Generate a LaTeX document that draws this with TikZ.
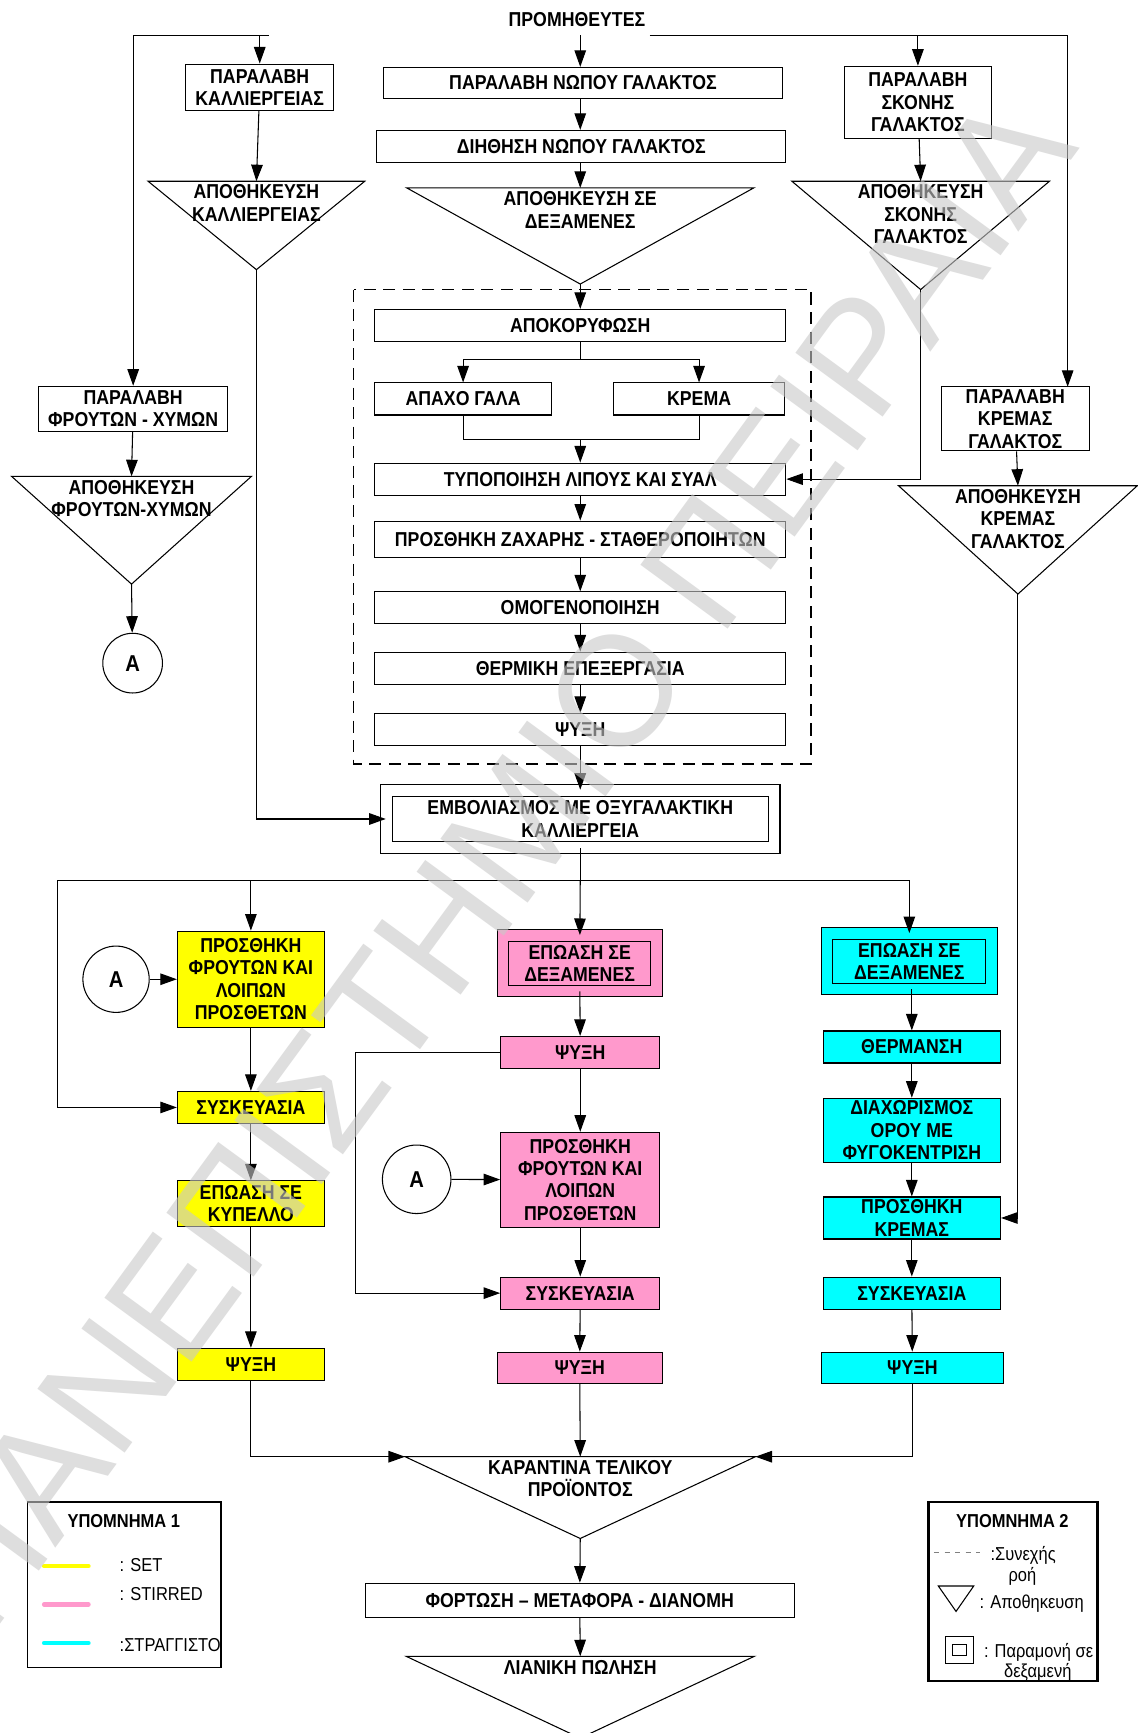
\documentclass[tikz,border=0pt]{standalone}
\usepackage{fontspec}
\setmainfont{Liberation Sans}[FakeStretch=0.88]
\newfontfamily\wzfont{Liberation Sans}
\usetikzlibrary{arrows.meta, calc}
\definecolor{gelb}{rgb}{1,1,0}
\definecolor{rosa}{RGB}{255,153,204}
\definecolor{tuerkis}{RGB}{0,255,255}
\definecolor{wzgrau}{RGB}{200,200,200}
\newcommand{\kastenfont}{\bfseries\fontsize{11.4}{12.7}\selectfont}
\newcommand{\legfont}{\fontsize{10.6}{12}\selectfont}
% Lager: Name, Mitte x, Oberkante y, halbe Breite, Hoehe, Text
\newcommand{\lager}[6]{%
  \draw[linie] (#2-#4,#3) coordinate (#1-l) -- (#2+#4,#3) coordinate (#1-r)
    -- (#2,#3+#5) coordinate (#1-s) -- cycle;
  \coordinate (#1-n) at (#2,#3);
  \node[lagertext] (#1) at (#2,#3+3) {#6};
}
\tikzset{
  linie/.style={line width=0.6pt},
  box/.style={draw, line width=0.6pt, inner sep=0pt, align=center, font=\kastenfont},
  breite/.style={minimum width=#1*0.022cm},
  hoehe/.style={minimum height=#1*0.022cm},
  dbox/.style={box, fill=#1, double=#1, double distance=0.21cm},
  gbox/.style={box, fill=gelb},
  rbox/.style={box, fill=rosa},
  tbox/.style={box, fill=tuerkis},
  lagertext/.style={anchor=north, align=center, inner sep=0pt, font=\kastenfont},
  kreis/.style={draw, circle, line width=0.6pt, inner sep=0pt, font=\bfseries\fontsize{13}{13}\selectfont},
  pfeil/.style={-{Triangle[length=0.33cm, width=0.23cm]}, line width=0.6pt},
  gestrichelt/.style={dashed, dash pattern=on 0.24cm off 0.15cm, line width=0.9pt},
  rahmen/.style={draw, line width=0.7pt, inner sep=0pt},
  legtitel/.style={inner sep=0pt, font=\bfseries\legfont},
  legtext/.style={anchor=west, inner sep=0pt, font=\legfont},
  legstrich/.style={line width=2.6pt, line cap=round},
  wasserzeichen/.style={rotate=53.8, inner sep=0pt, text=wzgrau, text opacity=0.6,
    font=\wzfont\fontsize{89}{89}\selectfont},
}
\begin{document}
\begin{tikzpicture}[x=0.022cm, y=-0.022cm]
  \fill[white] (0,0) rectangle (1029,1568);
  \useasboundingbox (0,0) rectangle (1029,1568);

  % Lieferanten
  \node[inner sep=0pt, font=\kastenfont] (prom) at (522,18) {ΠΡΟΜΗΘΕΥΤΕΣ};
  \coordinate (q-a) at (243,32);
  \coordinate (q-m) at (525,32);
  \coordinate (q-b) at (588,32);
  \coordinate (krin) at (966,350);

  % Annahme und Lagerung
  \node[box, breite=134, hoehe=42] (parkal) at (235,79) {ΠΑΡΑΛΑΒΗ\\ΚΑΛΛΙΕΡΓΕΙΑΣ};
  \node[box, breite=361, hoehe=28] (parnop) at (527.5,75) {ΠΑΡΑΛΑΒΗ ΝΩΠΟΥ ΓΑΛΑΚΤΟΣ};
  \node[box, breite=370, hoehe=29] (dith) at (526,132.5) {ΔΙΗΘΗΣΗ ΝΩΠΟΥ ΓΑΛΑΚΤΟΣ};
  \node[box, breite=133, hoehe=65] (parskon) at (830.5,92.5) {ΠΑΡΑΛΑΒΗ\\ΣΚΟΝΗΣ\\ΓΑΛΑΚΤΟΣ};
  \lager{apokal}{232}{164}{98}{80}{ΑΠΟΘΗΚΕΥΣΗ\\ΚΑΛΛΙΕΡΓΕΙΑΣ}
  \lager{apodex}{525}{170}{157}{87}{ΑΠΟΘΗΚΕΥΣΗ ΣΕ\\ΔΕΞΑΜΕΝΕΣ}
  \lager{aposkon}{833}{164}{116.5}{98}{ΑΠΟΘΗΚΕΥΣΗ\\ΣΚΟΝΗΣ\\ΓΑΛΑΚΤΟΣ}
  \node[box, breite=171, hoehe=41] (parfr) at (120.5,370) {ΠΑΡΑΛΑΒΗ\\ΦΡΟΥΤΩΝ - ΧΥΜΩΝ};
  \lager{apofr}{119}{431}{108.5}{97.5}{ΑΠΟΘΗΚΕΥΣΗ\\ΦΡΟΥΤΩΝ-ΧΥΜΩΝ}
  \node[kreis, minimum size=54*0.022cm] (a1) at (120,600) {Α};
  \node[box, breite=134, hoehe=58] (parkrem) at (918.6,379) {ΠΑΡΑΛΑΒΗ\\ΚΡΕΜΑΣ\\ΓΑΛΑΚΤΟΣ};
  \lager{apokrem}{921}{439.5}{108}{98}{ΑΠΟΘΗΚΕΥΣΗ\\ΚΡΕΜΑΣ\\ΓΑΛΑΚΤΟΣ}

  % Vorbehandlung der Milch
  \draw[gestrichelt] (320,262) rectangle (734,691);
  \node[box, breite=372, hoehe=29] (apokor) at (525,294.5) {ΑΠΟΚΟΡΥΦΩΣΗ};
  \node[box, breite=160, hoehe=29] (apaxo) at (419,361) {ΑΠΑΧΟ ΓΑΛΑ};
  \node[box, breite=155, hoehe=29] (krema) at (632.5,361) {ΚΡΕΜΑ};
  \node[box, breite=372, hoehe=29] (typop) at (525,433.5) {ΤΥΠΟΠΟΙΗΣΗ ΛΙΠΟΥΣ ΚΑΙ ΣΥΑΛ};
  \node[box, breite=372, hoehe=33] (prosz) at (525,488) {ΠΡΟΣΘΗΚΗ ΖΑΧΑΡΗΣ - ΣΤΑΘΕΡΟΠΟΙΗΤΩΝ};
  \node[box, breite=372, hoehe=29] (omog) at (525,550) {ΟΜΟΓΕΝΟΠΟΙΗΣΗ};
  \node[box, breite=372, hoehe=29] (therm) at (525,604.5) {ΘΕΡΜΙΚΗ ΕΠΕΞΕΡΓΑΣΙΑ};
  \node[box, breite=372, hoehe=29] (psy0) at (525,660) {ΨΥΞΗ};
  \node[dbox=white, breite=351, hoehe=52] (embol) at (525,741) {ΕΜΒΟΛΙΑΣΜΟΣ ΜΕ ΟΞΥΓΑΛΑΚΤΙΚΗ\\ΚΑΛΛΙΕΡΓΕΙΑ};

  % set
  \node[gbox, breite=133, hoehe=87] (yprosth) at (227,886) {ΠΡΟΣΘΗΚΗ\\ΦΡΟΥΤΩΝ ΚΑΙ\\ΛΟΙΠΩΝ\\ΠΡΟΣΘΕΤΩΝ};
  \node[kreis, minimum size=60*0.022cm] (a2) at (105,886) {Α};
  \node[gbox, breite=133, hoehe=29] (ysysk) at (227,1002) {ΣΥΣΚΕΥΑΣΙΑ};
  \node[gbox, breite=133, hoehe=41] (yepo) at (227,1089) {ΕΠΩΑΣΗ ΣΕ\\ΚΥΠΕΛΛΟ};
  \node[gbox, breite=133, hoehe=29] (ypsy) at (227,1234.5) {ΨΥΞΗ};

  % stirred
  \node[dbox=rosa, breite=138.5, hoehe=50] (pepo) at (524.5,871.5) {ΕΠΩΑΣΗ ΣΕ\\ΔΕΞΑΜΕΝΕΣ};
  \node[rbox, breite=144, hoehe=29] (ppsy1) at (525,952.3) {ΨΥΞΗ};
  \node[rbox, breite=144, hoehe=86] (pprosth) at (525,1067.5) {ΠΡΟΣΘΗΚΗ\\ΦΡΟΥΤΩΝ ΚΑΙ\\ΛΟΙΠΩΝ\\ΠΡΟΣΘΕΤΩΝ};
  \node[kreis, minimum size=62*0.022cm] (a3) at (377,1067) {Α};
  \node[rbox, breite=144, hoehe=29] (psysk) at (525,1170) {ΣΥΣΚΕΥΑΣΙΑ};
  \node[rbox, breite=149, hoehe=28] (ppsy2) at (524.5,1237.4) {ΨΥΞΗ};

  % straggisto
  \node[dbox=tuerkis, breite=149, hoehe=50] (cepo) at (822.75,869.75) {ΕΠΩΑΣΗ ΣΕ\\ΔΕΞΑΜΕΝΕΣ};
  \node[tbox, breite=160.5, hoehe=29] (cthe) at (825,947.3) {ΘΕΡΜΑΝΣΗ};
  \node[tbox, breite=160.5, hoehe=58] (cdiax) at (825,1022.7) {ΔΙΑΧΩΡΙΣΜΟΣ\\ΟΡΟΥ ΜΕ\\ΦΥΓΟΚΕΝΤΡΙΣΗ};
  \node[tbox, breite=160.5, hoehe=38] (cprosth) at (825,1102) {ΠΡΟΣΘΗΚΗ\\ΚΡΕΜΑΣ};
  \node[tbox, breite=160.5, hoehe=29] (csysk) at (825,1170) {ΣΥΣΚΕΥΑΣΙΑ};
  \node[tbox, breite=165, hoehe=28] (cpsy) at (825.5,1237.4) {ΨΥΞΗ};

  % Ende
  \lager{karant}{525}{1318}{158.5}{74}{ΚΑΡΑΝΤΙΝΑ ΤΕΛΙΚΟΥ\\ΠΡΟΪΟΝΤΟΣ}
  \node[box, breite=388, hoehe=31] (fort) at (524.5,1448) {ΦΟΡΤΩΣΗ – ΜΕΤΑΦΟΡΑ - ΔΙΑΝΟΜΗ};
  \lager{lian}{525}{1498.6}{157.5}{74}{ΛΙΑΝΙΚΗ ΠΩΛΗΣΗ}

  % Verbindungen oben
  \draw[linie] (q-b) -- (krin |- q-b);
  \draw[pfeil] (q-a) -| (parfr.north);
  \draw[pfeil] (q-b) -| (krin);
  \draw[pfeil] (parkal.north |- q-a) -- (parkal);
  \draw[pfeil] (parskon.north |- q-b) -- (parskon);
  \draw[pfeil] (q-m) -- (q-m |- parnop.north);
  \draw[pfeil] (parkal) -- (apokal-n);
  \draw[pfeil] (q-m |- parnop.south) -- (q-m |- dith.north);
  \draw[pfeil] (q-m |- dith.south) -- (apodex-n);
  \draw[pfeil] (parskon) -- (aposkon-n);
  \draw[pfeil] (parfr) -- (apofr-n);
  \draw[pfeil] (apofr-s) -- (a1);
  \draw[pfeil] (parkrem) -- (apokrem-n);

  % Verbindungen im Block
  \coordinate (spl) at (525,325);
  \coordinate (mrg) at (525,397.5);
  \draw[pfeil] (apodex-s) -- (apokor);
  \draw[linie] (apokor) -- (spl);
  \draw[pfeil] (spl) -| (apaxo);
  \draw[pfeil] (spl) -| (krema);
  \draw[linie] (apaxo) |- (mrg);
  \draw[linie] (krema) |- (mrg);
  \draw[pfeil] (mrg) -- (typop);
  \draw[pfeil] (aposkon-s) |- (typop);
  \draw[pfeil] (typop) -- (prosz);
  \draw[pfeil] (prosz) -- (omog);
  \draw[pfeil] (omog) -- (therm);
  \draw[pfeil] (therm) -- (psy0);
  \draw[pfeil] (psy0) -- (embol);
  \draw[pfeil] (apokal-s) |- (embol);

  % Verteilung
  \coordinate (vt) at (525,796.5);
  \coordinate (vl) at (52,796.5);
  \draw[linie] (embol) -- (vt);
  \draw[linie] (vt) -- (vl);
  \draw[pfeil] (vl) |- (ysysk);
  \draw[pfeil] (yprosth.north |- vt) -- (yprosth);
  \draw[pfeil] (vt) -- (pepo);
  \draw[pfeil] (vt) -| (cepo);

  \draw[pfeil] (a2) -- (yprosth);
  \draw[pfeil] (yprosth) -- (ysysk);
  \draw[pfeil] (ysysk) -- (yepo);
  \draw[pfeil] (yepo) -- (ypsy);
  \draw[pfeil] (ypsy) |- (karant-l);

  \coordinate (rl) at (322,952.3);
  \draw[pfeil] (pepo) -- (ppsy1);
  \draw[pfeil] (ppsy1) -- (pprosth);
  \draw[pfeil] (pprosth) -- (psysk);
  \draw[pfeil] (psysk) -- (ppsy2);
  \draw[pfeil] (ppsy1) -- (rl) |- (psysk);
  \draw[pfeil] (a3) -- (pprosth);
  \draw[pfeil] (ppsy2) -- (karant-n);

  \draw[pfeil] (cepo.south -| cthe) -- (cthe);
  \draw[pfeil] (cthe) -- (cdiax);
  \draw[pfeil] (cdiax) -- (cprosth);
  \draw[pfeil] (cprosth) -- (csysk);
  \draw[pfeil] (csysk) -- (cpsy);
  \draw[pfeil] (cpsy) |- (karant-r);
  \draw[pfeil] (apokrem-s) |- (cprosth);

  \draw[pfeil] (karant-s) -- (fort);
  \draw[pfeil] (fort) -- (lian-n);

  % Legende 1
  \node[rahmen, breite=175, hoehe=150] (leg1) at (112.5,1434) {};
  \node[legtitel] (leg1t) at (112,1376) {ΥΠΟΜΝΗΜΑ 1};
  \draw[legstrich, gelb] (40,1417) -- (80,1417);
  \draw[legstrich, rosa] (40,1451.6) -- (80,1451.6);
  \draw[legstrich, tuerkis] (40,1486.6) -- (80,1486.6);
  \node[legtext] (lset) at (108,1416) {: SET};
  \node[legtext] (lstir) at (108,1442) {: STIRRED};
  \node[legtext] (lstr) at (108,1488) {:ΣΤΡΑΓΓΙΣΤΟ};

  % Legende 2
  \node[rahmen, line width=1.3pt, breite=153, hoehe=162] (leg2) at (916.5,1440) {};
  \node[legtitel] (leg2t) at (916,1376) {ΥΠΟΜΝΗΜΑ 2};
  \draw[dashed, gray, line width=0.4pt] (845,1404.6) -- (887,1404.6);
  \node[legtext] (lfluss) at (896,1407) {:Συνεχής};
  \node[inner sep=0pt, font=\legfont] (lroi) at (925,1426) {ροή};
  \lager{legtri}{865}{1435}{16}{23}{}
  \node[legtext] (llager) at (886,1451) {: Αποθηκευση};
  \node[dbox=white, breite=19, hoehe=17, double distance=0.13cm] (ltank) at (868,1493) {};
  \node[legtext] (ltanktxt) at (890,1495) {: Παραμονή σε};
  \node[inner sep=0pt, font=\legfont] (ldex) at (939,1513) {δεξαμενή};

  % Wasserzeichen
  \node[wasserzeichen] (wz) at (444,780) {ΠΑΝΕΠΙΣΤΗΜΙΟ ΠΕΙΡΑΙΑ};
\end{tikzpicture}
\end{document}
